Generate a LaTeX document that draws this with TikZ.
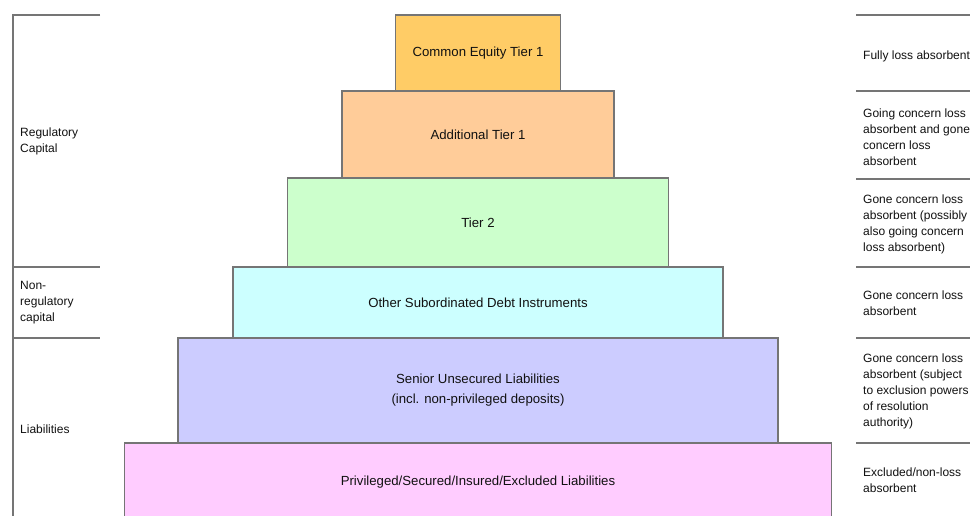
\documentclass[tikz,border=0pt]{standalone}
\usepackage{fontspec}
\setmainfont{Liberation Sans}
\definecolor{cetone}{HTML}{FFCC66}
\definecolor{atone}{HTML}{FFCC99}
\definecolor{tiertwo}{HTML}{CCFFCC}
\definecolor{otherdebt}{HTML}{CCFFFF}
\definecolor{senior}{HTML}{CCCCFF}
\definecolor{priv}{HTML}{FFCCFF}
\definecolor{edge}{HTML}{757575}
\definecolor{txt}{HTML}{111111}
\begin{document}
\begin{tikzpicture}[x=1pt,y=-1pt,
  tierbox/.style={draw=edge,line width=1.4pt,inner sep=0pt,align=center,text=txt,
    font=\fontsize{13.2}{20}\selectfont},
  sidetext/.style={inner sep=0pt,align=left,text=txt,anchor=west,
    font=\fontsize{12}{16}\selectfont},
  rule/.style={draw=edge,line width=1.5pt}]
\useasboundingbox (0,0) rectangle (970,516);
\clip (0,0) rectangle (970,516);
\fill[white] (0,0) rectangle (970,516);
% pyramid
\node[tierbox,fill=priv,minimum width=707pt,minimum height=78pt] (b6) at (478,482) {Privileged/Secured/Insured/Excluded Liabilities};
\node[tierbox,fill=senior,minimum width=600pt,minimum height=105pt] (b5) at (478,390.5) {Senior Unsecured Liabilities\\(incl. non-privileged deposits)};
\node[tierbox,fill=otherdebt,minimum width=490pt,minimum height=71pt] (b4) at (478,302.5) {Other Subordinated Debt Instruments};
\node[tierbox,fill=tiertwo,minimum width=381pt,minimum height=89pt] (b3) at (478,222.5) {Tier 2};
\node[tierbox,fill=atone,minimum width=272pt,minimum height=87pt] (b2) at (478,134.5) {Additional Tier 1};
\node[tierbox,fill=cetone,minimum width=165pt,minimum height=76pt] (b1) at (478,53) {Common Equity Tier 1};
% left bracket
\coordinate (lt) at (13,15);
\coordinate (lb) at (13,520);
\coordinate (l1a) at (13,267); \coordinate (l1b) at (100,267);
\coordinate (l2a) at (13,338); \coordinate (l2b) at (100,338);
\coordinate (l0b) at (100,15);
\draw[rule] (l0b) -- (lt) -- (lb);
\draw[rule] (l1a) -- (l1b);
\draw[rule] (l2a) -- (l2b);
\node[sidetext] (reg) at (20,141) {Regulatory\\Capital};
\node[sidetext] (nonreg) at (20,303) {Non-\\regulatory\\capital};
\node[sidetext] (liab) at (20,429) {Liabilities};
% right rules
\foreach \yy/\nm in {15/r0,91/r1,179/r2,267/r3,338/r4,443/r5}{
  \coordinate (\nm a) at (856,\yy);
  \coordinate (\nm b) at (972,\yy);
  \draw[rule] (\nm a) -- (\nm b);
}
\node[sidetext] (t1) at (863,56) {Fully loss absorbent};
\node[sidetext] (t2) at (863,137) {Going concern loss\\absorbent and gone\\concern loss\\absorbent};
\node[sidetext] (t3) at (863,224) {Gone concern loss\\absorbent (possibly\\also going concern\\loss absorbent)};
\node[sidetext] (t4) at (863,303) {Gone concern loss\\absorbent};
\node[sidetext] (t5) at (863,391) {Gone concern loss\\absorbent (subject\\to exclusion powers\\of resolution\\authority)};
\node[sidetext] (t6) at (863,480) {Excluded/non-loss\\absorbent};
\end{tikzpicture}
\end{document}
